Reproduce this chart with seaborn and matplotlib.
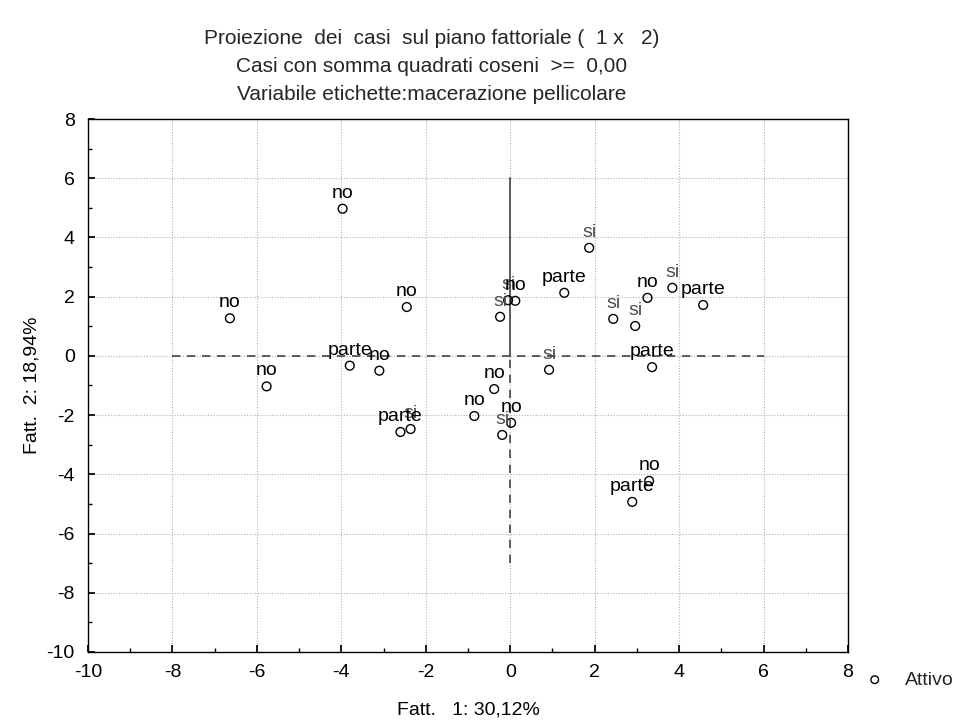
import matplotlib
matplotlib.use("Agg")
import matplotlib.pyplot as plt
from matplotlib.ticker import MultipleLocator
import seaborn as sns
import pandas as pd

sns.set_theme(style="white")
plt.rcParams['font.family'] = ['Liberation Sans', 'DejaVu Sans']
plt.rcParams['axes.unicode_minus'] = False

labels = ["no", "no", "no", "no", "parte", "no", "parte", "si", "no", "no",
          "no", "si", "si", "si", "no", "parte", "si", "si", "si", "no",
          "si", "parte", "si", "parte", "parte", "no"]
fatt1 = [-3.97, -6.64, -2.45, -5.77, -3.80, -3.10, -2.60, -2.36, -0.85, -0.38,
         0.02, -0.19, -0.24, -0.05, 0.12, 1.28, 1.87, 2.44, 2.96, 3.25,
         3.84, 4.57, 0.92, 3.36, 2.89, 3.29]
fatt2 = [4.97, 1.27, 1.65, -1.03, -0.33, -0.50, -2.57, -2.47, -2.03, -1.12,
         -2.26, -2.67, 1.32, 1.88, 1.86, 2.13, 3.65, 1.25, 1.01, 1.96,
         2.30, 1.72, -0.47, -0.38, -4.93, -4.22]
xticks = list(range(-10, 9, 2))
yticks = list(range(-10, 9, 2))

df = pd.DataFrame({"Fatt1": fatt1, "Fatt2": fatt2, "lab": labels, "tipo": "Attivo"})

fig = plt.figure(figsize=(9.66, 7.25), dpi=100)
ax = fig.add_axes([88/966, 1-652/725, 760/966, 533/725])

ax.set_xlim(-10, 8)
ax.set_ylim(-10, 8)
ax.set_xticks(xticks)
ax.set_yticks(yticks)
ax.xaxis.set_minor_locator(MultipleLocator(1))
ax.yaxis.set_minor_locator(MultipleLocator(1))
ax.grid(True, which="major", color="#b0b0b0", linestyle=(0, (1, 1.5)), linewidth=0.8)
ax.set_axisbelow(True)

# reference lines
ax.plot([-8, 6], [0, 0], color="#444444", linestyle=(0, (5, 4)), linewidth=1.2, zorder=1)
ax.plot([0, 0], [0, 6], color="#444444", linestyle="-", linewidth=1.2, zorder=1)
ax.plot([0, 0], [-7, 0], color="#444444", linestyle=(0, (5, 4)), linewidth=1.2, zorder=1)

sns.scatterplot(data=df, x="Fatt1", y="Fatt2", ax=ax, marker="o", s=40,
                facecolor="none", edgecolor="black", linewidth=1.0, legend=False, zorder=3)

order = sorted(range(len(labels)), key=lambda i: 0 if labels[i] == "si" else 1)
for i in order:
    col = "#4d4d4d" if labels[i] == "si" else "black"
    ax.annotate(labels[i], (fatt1[i], fatt2[i]), xytext=(0, 8), textcoords="offset points",
                ha="center", va="baseline", fontsize=14, color=col, zorder=4)

for s in ax.spines.values():
    s.set_color("black")
    s.set_linewidth(1.0)
ax.tick_params(axis="both", which="major", labelsize=14, colors="black", length=5,
               direction="in", bottom=True, left=True)
ax.tick_params(axis="x", which="major", pad=8.6)
ax.tick_params(axis="y", which="major", pad=9.5)
ax.tick_params(axis="both", which="minor", colors="black", length=3,
               direction="in", bottom=True, left=True)

ax.set_xlabel("Fatt.   1: 30,12%", fontsize=14, color="black", labelpad=15)
ax.set_ylabel("Fatt.  2: 18,94%", fontsize=14, color="black", labelpad=4.5)

fig.text(432/966, 1-38/725, "Proiezione  dei  casi  sul piano fattoriale (  1 x   2)",
         ha="center", va="center", fontsize=15)
fig.text(432/966, 1-66/725, "Casi con somma quadrati coseni  >=  0,00",
         ha="center", va="center", fontsize=15)
fig.text(432/966, 1-94/725, "Variabile etichette:macerazione pellicolare",
         ha="center", va="center", fontsize=15)

h = ax.scatter([], [], marker="o", s=30, facecolor="none", edgecolor="black", linewidth=1.0)
fig.legend([h], ["Attivo"], loc="center left", bbox_to_anchor=(865/966, 1-680/725),
           frameon=False, fontsize=14, handlelength=1.0, handletextpad=1.06, borderpad=0,
           borderaxespad=0)

fig.savefig("out.png", dpi=100)
